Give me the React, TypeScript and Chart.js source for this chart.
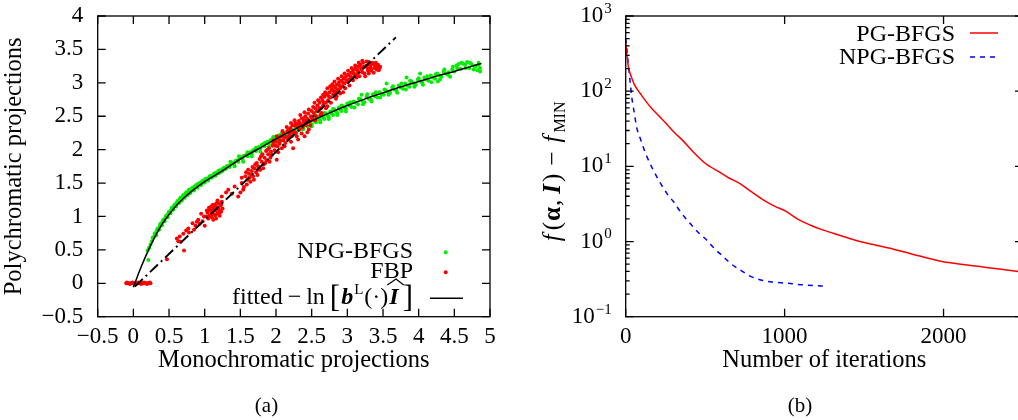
import { useEffect, useRef } from "react";
import { Chart, registerables } from "chart.js";

Chart.register(...registerables);

const SERIF = '"Liberation Serif", "Times New Roman", serif';

// ---------------- Panel (a) ----------------
const aXTicks = [-0.5, 0, 0.5, 1, 1.5, 2, 2.5, 3, 3.5, 4, 4.5, 5];
const aYTicks = [-0.5, 0, 0.5, 1, 1.5, 2, 2.5, 3, 3.5, 4];
const aXTitle = "Monochromatic projections";
const aYTitle = "Polychromatic projections";
const aLegend = ["NPG-BFGS", "FBP"];

const npgScatter: number[][] = [
  [0.21, 0.35], [0.2, 0.49], [0.22, 0.53], [0.24, 0.58],
  [0.26, 0.63], [0.27, 0.68], [0.29, 0.7], [0.3, 0.75], [0.31, 0.73], [0.33, 0.79], [0.34, 0.82], [0.35, 0.8],
  [0.37, 0.86], [0.38, 0.89], [0.39, 0.87], [0.41, 0.93], [0.42, 0.95], [0.43, 0.93], [0.45, 0.99], [0.46, 1.01],
  [0.47, 0.99], [0.49, 1.05], [0.5, 1.07], [0.51, 1.05], [0.53, 1.1], [0.54, 1.13], [0.55, 1.11], [0.57, 1.16],
  [0.58, 1.18], [0.59, 1.16], [0.61, 1.21], [0.62, 1.23], [0.63, 1.21], [0.65, 1.26], [0.66, 1.28], [0.67, 1.25],
  [0.69, 1.3], [0.7, 1.32], [0.71, 1.29], [0.73, 1.34], [0.74, 1.36], [0.75, 1.33], [0.77, 1.38], [0.78, 1.4],
  [0.79, 1.37], [0.81, 1.41], [0.83, 1.43], [0.84, 1.41], [0.86, 1.45], [0.88, 1.47], [0.89, 1.45], [0.91, 1.49],
  [0.93, 1.5], [0.94, 1.48], [0.96, 1.52], [0.98, 1.54], [0.99, 1.52], [1.01, 1.56], [1.03, 1.57], [1.05, 1.56],
  [1.07, 1.6], [1.09, 1.61], [1.11, 1.6], [1.13, 1.64], [1.15, 1.65], [1.17, 1.64], [1.19, 1.68], [1.21, 1.69],
  [1.23, 1.67], [1.25, 1.71], [1.27, 1.73], [1.29, 1.71],
  [1.31, 1.75], [1.33, 1.76], [1.35, 1.74], [1.37, 1.79], [1.39, 1.8], [1.41, 1.78], [1.43, 1.83], [1.45, 1.84],
  [1.47, 1.82], [1.49, 1.87], [1.51, 1.89], [1.53, 1.86], [1.55, 1.91], [1.58, 1.92], [1.6, 1.9], [1.62, 1.95],
  [1.64, 1.96], [1.66, 1.94], [1.68, 1.99], [1.7, 2.0], [1.72, 1.98], [1.74, 2.03], [1.76, 2.04], [1.78, 2.02],
  [1.8, 2.07], [1.82, 2.08], [1.84, 2.05], [1.86, 2.1], [1.88, 2.12], [1.9, 2.09], [1.92, 2.14], [1.94, 2.15],
  [1.96, 2.13], [1.98, 2.18], [2.0, 2.19], [2.02, 2.16], [2.04, 2.21], [2.06, 2.22], [2.08, 2.19], [2.1, 2.24],
  [2.12, 2.25], [2.14, 2.22], [2.16, 2.27], [2.18, 2.28], [2.2, 2.25], [2.22, 2.3], [2.24, 2.29], [2.26, 2.27],
  [2.28, 2.33], [2.3, 2.31], [2.32, 2.29], [2.34, 2.36], [2.36, 2.34], [2.38, 2.32], [2.4, 2.39], [2.42, 2.37],
  [2.44, 2.35], [2.46, 2.42], [2.48, 2.4], [2.5, 2.38], [2.52, 2.45], [2.54, 2.43], [2.55, 2.52], [2.56, 2.41],
  [2.58, 2.48], [2.6, 2.46], [2.62, 2.44], [2.64, 2.51], [2.66, 2.48], [2.68, 2.46], [2.7, 2.54], [2.72, 2.51],
  [2.74, 2.49], [2.76, 2.57], [2.78, 2.54], [2.8, 2.52], [2.82, 2.6], [2.84, 2.57], [2.86, 2.55], [2.88, 2.63],
  [2.9, 2.6], [2.92, 2.58], [2.94, 2.65], [2.96, 2.63], [2.98, 2.61], [3.0, 2.69], [3.03, 2.66], [3.06, 2.64],
  [3.09, 2.72], [3.12, 2.7], [3.15, 2.68], [3.18, 2.76], [3.2, 2.82], [3.21, 2.73], [3.24, 2.71], [3.27, 2.79],
  [3.3, 2.76], [3.33, 2.75], [3.36, 2.83], [3.39, 2.8], [3.42, 2.78], [3.45, 2.86], [3.48, 2.83], [3.51, 2.82],
  [3.54, 2.89], [3.55, 2.99], [3.57, 2.86], [3.6, 2.85], [3.63, 2.93], [3.66, 2.9], [3.69, 2.88], [3.72, 2.96],
  [3.75, 2.93], [3.78, 2.91], [3.81, 2.99], [3.83, 3.08], [3.84, 2.96], [3.87, 2.94], [3.9, 3.02], [3.93, 2.99],
  [3.96, 2.97], [3.99, 3.05], [4.02, 3.14], [4.03, 3.02], [4.05, 3.0], [4.08, 3.08], [4.11, 3.05], [4.14, 3.03],
  [4.17, 3.11], [4.2, 3.08], [4.23, 3.06], [4.26, 3.14], [4.27, 3.02], [4.29, 3.11], [4.32, 3.09], [4.35, 3.17],
  [4.38, 3.14], [4.41, 3.12], [4.44, 3.09], [4.47, 3.2], [4.5, 3.17], [4.53, 3.26], [4.56, 3.28], [4.59, 3.21],
  [4.62, 3.29], [4.65, 3.27], [4.68, 3.31], [4.71, 3.22], [4.74, 3.28], [4.77, 3.2], [4.8, 3.25], [4.82, 3.19],
  [4.84, 3.27], [4.86, 3.22],
];

const npgScatterExtra: number[][] = [
  [0.32, 0.72], [0.36, 0.8], [0.4, 0.87], [0.44, 0.93], [0.48, 0.99], [0.52, 1.05], [0.56, 1.1], [0.6, 1.15],
  [0.64, 1.2], [0.68, 1.24], [0.72, 1.28], [0.76, 1.32], [0.8, 1.35], [0.85, 1.39], [0.9, 1.43], [0.95, 1.47],
  [1.0, 1.51], [1.05, 1.54], [1.1, 1.58], [1.15, 1.61], [1.2, 1.65], [1.25, 1.68], [1.3, 1.72],
  [1.36, 1.82], [1.42, 1.75], [1.48, 1.9], [1.54, 1.82], [1.6, 1.96], [1.66, 1.9], [1.72, 2.03], [1.78, 1.97],
  [1.84, 2.1], [1.9, 2.04], [1.96, 2.19], [2.02, 2.11], [2.08, 2.24], [2.14, 2.19], [2.2, 2.32], [2.26, 2.23],
  [2.32, 2.36], [2.38, 2.3], [2.44, 2.42], [2.5, 2.35], [2.56, 2.5], [2.62, 2.41], [2.68, 2.55], [2.74, 2.46],
  [2.8, 2.61], [2.86, 2.52], [2.92, 2.66], [2.98, 2.57], [3.04, 2.71], [3.1, 2.63], [3.16, 2.76], [3.22, 2.68],
  [3.28, 2.83], [3.34, 2.72], [3.4, 2.86], [3.46, 2.78], [3.52, 2.9], [3.58, 2.82], [3.64, 2.95], [3.7, 2.85],
  [3.76, 2.99], [3.82, 2.9], [3.88, 3.03], [3.94, 2.94], [4.0, 3.07], [4.06, 2.97], [4.12, 3.1], [4.18, 3.01],
  [4.24, 3.13], [4.3, 3.05], [4.36, 3.2], [4.42, 3.16], [4.48, 3.24], [4.54, 3.22], [4.6, 3.3], [4.66, 3.22],
  [4.72, 3.3], [4.78, 3.25], [4.84, 3.3], [4.86, 3.17],
];

const fbpScatter: number[][] = [
  [-0.1, 0], [-0.08, 0], [-0.06, 0], [-0.04, 0], [-0.02, 0], [0.0, 0], [0.02, 0], [0.04, 0], [0.06, 0],
  [0.08, 0], [0.1, 0], [0.12, 0], [0.14, 0], [0.16, 0], [0.18, 0], [0.2, 0], [0.22, 0], [0.24, 0],
  [-0.09, 0.01], [-0.05, -0.01], [-0.01, 0.01], [0.03, -0.01], [0.07, 0.01], [0.11, -0.01], [0.15, 0.01],
  [0.19, -0.01], [0.23, 0.01],
  [0.47, 0.36], [0.71, 0.49], [0.61, 0.67], [0.63, 0.63], [0.65, 0.7], [0.7, 0.74], [0.74, 0.79], [0.78, 0.76],
  [0.83, 0.9], [0.87, 0.86], [0.91, 0.95], [0.95, 1.04], [1.0, 0.86], [0.97, 0.93],
  [1.02, 1.0], [1.04, 1.06], [1.05, 0.97], [1.07, 1.1], [1.08, 1.02], [1.09, 1.15], [1.1, 0.99], [1.11, 1.07],
  [1.12, 1.12], [1.13, 1.03], [1.14, 1.18], [1.15, 1.09], [1.16, 0.97], [1.17, 1.14], [1.18, 1.05], [1.19, 1.2],
  [1.2, 1.1], [1.21, 1.01], [1.22, 1.16], [1.23, 1.07], [1.24, 1.22], [1.25, 1.12], [1.06, 1.13], [1.12, 0.95],
  [1.18, 1.24],
  [1.24, 1.3], [1.3, 1.36], [1.33, 1.4], [1.38, 1.34], [1.42, 1.45], [1.47, 1.3], [1.5, 1.36], [1.52, 1.5],
  [1.55, 1.44], [1.57, 1.6], [1.6, 1.55], [1.62, 1.64], [1.64, 1.52], [1.66, 1.68], [1.68, 1.6],
  [1.7, 1.72], [1.72, 1.66], [1.73, 1.8], [1.75, 1.75], [1.77, 1.86], [1.78, 1.7], [1.8, 1.82], [1.81, 1.93],
  [1.83, 1.78], [1.84, 1.88], [1.86, 1.98], [1.87, 1.84], [1.89, 1.93], [1.9, 2.02], [1.92, 1.88], [1.93, 1.97],
  [1.95, 2.06], [1.96, 2.1], [1.98, 1.99], [2.0, 2.12], [2.01, 1.85], [2.02, 2.05], [2.04, 2.16], [2.05, 2.09],
  [2.07, 2.2], [2.08, 2.02], [2.1, 2.14], [2.11, 2.24], [2.13, 2.1], [2.14, 2.19], [2.16, 2.28], [2.17, 2.15],
  [2.19, 2.24], [2.2, 2.32], [2.22, 2.2], [2.23, 2.36], [2.24, 2.02], [2.25, 2.28], [2.27, 2.4], [2.28, 2.25],
  [2.3, 2.34], [2.31, 2.15], [2.32, 2.43], [2.33, 2.3], [2.35, 2.38], [2.36, 2.47], [2.37, 2.33], [2.39, 2.42],
  [2.4, 2.2], [2.41, 2.5], [2.42, 2.37], [2.44, 2.46], [2.45, 2.54], [2.46, 2.3], [2.47, 2.42], [2.49, 2.5],
  [2.5, 2.58], [2.51, 2.45],
  [2.53, 2.55], [2.55, 2.62], [2.56, 2.5], [2.58, 2.66], [2.6, 2.58], [2.61, 2.7], [2.63, 2.62], [2.65, 2.74],
  [2.66, 2.66], [2.68, 2.79], [2.7, 2.7], [2.71, 2.83], [2.73, 2.74], [2.75, 2.86], [2.76, 2.78], [2.78, 2.9],
  [2.8, 2.82], [2.81, 2.94], [2.83, 2.86], [2.85, 2.97], [2.86, 2.89], [2.88, 3.0], [2.9, 2.92], [2.91, 3.03],
  [2.93, 2.95], [2.95, 3.06], [2.96, 2.99], [2.98, 3.09], [3.0, 3.02], [3.01, 3.12], [3.03, 3.05], [3.05, 3.15],
  [3.06, 3.08], [3.08, 3.18], [3.1, 3.1], [3.11, 3.21], [3.13, 3.13], [3.15, 3.24], [3.16, 3.16], [2.62, 2.52],
  [2.72, 2.65], [2.84, 2.76], [2.94, 2.86],
  [3.18, 3.27], [3.2, 3.2], [3.22, 3.3], [3.24, 3.14], [3.26, 3.25], [3.27, 3.32], [3.29, 3.18], [3.31, 3.28],
  [3.33, 3.22], [3.35, 3.3], [3.37, 3.15], [3.39, 3.25], [3.41, 3.2], [3.43, 3.27], [3.45, 3.22], [3.46, 3.24],
];

const fbpScatterExtra: number[][] = [
  [0.66, 0.62], [0.77, 0.82], [0.85, 0.8], [0.89, 0.92], [0.93, 0.89], [0.99, 1.0],
  [1.03, 1.09], [1.06, 1.01], [1.09, 1.08], [1.11, 1.17], [1.13, 1.1], [1.15, 1.02], [1.17, 1.2], [1.19, 1.12],
  [1.21, 1.06], [1.23, 1.18], [1.1, 1.04], [1.14, 1.14],
  [1.52, 1.58], [1.54, 1.4], [1.58, 1.66], [1.59, 1.48], [1.61, 1.7], [1.63, 1.58], [1.65, 1.62], [1.67, 1.74],
  [1.69, 1.55], [1.71, 1.78], [1.74, 1.62], [1.76, 1.7], [1.79, 1.9], [1.82, 1.72], [1.85, 1.8], [1.88, 2.0],
  [1.91, 1.82], [1.94, 1.92], [1.97, 2.14],
  [1.99, 2.06], [2.01, 2.2], [2.03, 1.96], [2.06, 2.13], [2.09, 2.28], [2.12, 2.05], [2.15, 2.34], [2.18, 2.2],
  [2.21, 2.4], [2.21, 2.12], [2.24, 2.26], [2.26, 2.44], [2.29, 2.2], [2.31, 2.38], [2.34, 2.52], [2.36, 2.24],
  [2.38, 2.46], [2.4, 2.56], [2.43, 2.4], [2.44, 2.26], [2.46, 2.6], [2.48, 2.36], [2.5, 2.48], [2.52, 2.64],
  [2.26, 2.36], [2.33, 2.4], [2.38, 2.36], [2.42, 2.44], [2.18, 2.3], [2.12, 2.18],
  [2.54, 2.7], [2.55, 2.44], [2.57, 2.58], [2.59, 2.74], [2.61, 2.62], [2.63, 2.78], [2.64, 2.55], [2.66, 2.82],
  [2.67, 2.7], [2.69, 2.86], [2.7, 2.62], [2.72, 2.92], [2.74, 2.8], [2.76, 2.95], [2.77, 2.7], [2.79, 2.98],
  [2.8, 2.88], [2.82, 3.02], [2.84, 2.92], [2.85, 2.8], [2.87, 3.06], [2.89, 2.96], [2.9, 2.84], [2.92, 3.1],
  [2.94, 3.0], [2.96, 3.14], [2.97, 2.92], [2.99, 3.04], [3.01, 3.18], [3.03, 2.96], [3.04, 3.1], [3.06, 3.22],
  [3.08, 3.04], [3.09, 3.14], [3.11, 3.26], [3.13, 3.08], [3.14, 3.19], [3.16, 3.3], [3.17, 3.1], [3.19, 3.22],
  [3.21, 3.33], [3.23, 3.24], [3.25, 3.1], [3.28, 3.22], [3.3, 3.31], [3.32, 3.26], [3.34, 3.18], [3.36, 3.28],
  [3.38, 3.22], [3.4, 3.3], [3.42, 3.24], [3.44, 3.19], [3.21, 3.16], [3.3, 3.14],
];

const fittedCurve: number[][] = [
  [0.0, -0.06], [0.1, 0.22], [0.2, 0.47], [0.3, 0.69], [0.4, 0.88], [0.5, 1.03], [0.6, 1.16], [0.7, 1.27],
  [0.82, 1.38], [1.0, 1.52], [1.15, 1.62], [1.3, 1.72], [1.5, 1.86], [1.75, 2.01], [2.0, 2.16], [2.25, 2.3],
  [2.5, 2.43], [2.75, 2.55], [3.0, 2.66], [3.25, 2.76], [3.5, 2.85], [3.75, 2.94], [4.0, 3.02], [4.25, 3.1],
  [4.5, 3.17], [4.75, 3.25], [4.88, 3.29],
];

const identityLine: number[][] = [[0.02, -0.05], [3.68, 3.68]];

// ---------------- Panel (b) ----------------
const bXTicks = [0, 1000, 2000];
const bYDecades = [-1, 0, 1, 2, 3];
const bXTitle = "Number of iterations";
const bLegend = ["PG-BFGS", "NPG-BFGS"];

const pgIterations = [0, 8, 16, 25, 38, 55, 75, 100, 130, 160, 200, 250, 300, 360, 425, 500, 593, 650, 719, 790,
  855, 930, 1012, 1080, 1159, 1230, 1306, 1390, 1474, 1570, 1663, 1760, 1851, 1998, 2110, 2228, 2350, 2470, 2500];
const pgValues = [440, 300, 215, 180, 150, 122, 104, 88, 72, 60, 49, 38, 29, 22, 15.5, 11, 8.3, 7, 5.9, 4.6,
  3.7, 3.0, 2.5, 2.0, 1.66, 1.45, 1.29, 1.13, 1.0, 0.9, 0.815, 0.72, 0.64, 0.54, 0.5, 0.464, 0.43, 0.398, 0.39];

const npgIterations = [0, 10, 20, 30, 38, 55, 69, 90, 130, 195, 258, 300, 350, 404, 460, 509, 560, 614, 660, 719,
  780, 845, 920, 1012, 1100, 1222, 1253];
const npgValues = [510, 312, 191, 121, 84, 50, 33, 24, 14, 7.3, 4.4, 3.4, 2.4, 1.75, 1.3, 1.05, 0.8, 0.63, 0.51,
  0.42, 0.35, 0.31, 0.29, 0.279, 0.267, 0.257, 0.255];

// ---------------- helpers ----------------
const GREEN = "#00ee00";
const RED = "#ff0000";
const BLUE = "#0000ff";
const DOT_R = 2;

const fmt = (v: number) => (v < 0 ? "\u2212" + String(Math.abs(v)) : String(v));

type Piece = { t: string; f: string; dy?: number; gap?: number; hat?: boolean };

function piecesWidth(ctx: CanvasRenderingContext2D, ps: Piece[]) {
  let w = 0;
  for (const p of ps) {
    ctx.font = p.f;
    w += ctx.measureText(p.t).width + (p.gap || 0);
  }
  return w;
}

function drawPieces(ctx: CanvasRenderingContext2D, ps: Piece[], x: number, y: number) {
  ctx.textAlign = "left";
  ctx.textBaseline = "alphabetic";
  for (const p of ps) {
    ctx.font = p.f;
    const w = ctx.measureText(p.t).width;
    ctx.fillText(p.t, x, y + (p.dy || 0));
    if (p.hat) {
      ctx.beginPath();
      ctx.lineWidth = 1.2;
      ctx.moveTo(x - 2, y - 19);
      ctx.lineTo(x + w / 2 + 2, y - 25);
      ctx.lineTo(x + w + 5, y - 19);
      ctx.stroke();
    }
    x += w + (p.gap || 0);
  }
}

const pts = (arr: number[][]) => arr.map(([x, y]) => ({ x, y }));
const ptsXY = (xs: number[], ys: number[]) => xs.map((x, i) => ({ x, y: ys[i] }));

const panelAPlugin = {
  id: "panelA",
  afterDatasetsDraw(chart: any) {
    const ctx: CanvasRenderingContext2D = chart.ctx;
    const a = chart.chartArea;
    const xs = chart.scales.x;
    const ys = chart.scales.y;
    ctx.save();
    ctx.strokeStyle = "#000";
    ctx.fillStyle = "#000";
    ctx.lineWidth = 1.3;
    ctx.beginPath();
    for (const v of aXTicks) {
      const p = xs.getPixelForValue(v);
      ctx.moveTo(p, a.bottom);
      ctx.lineTo(p, a.bottom - 8);
      ctx.moveTo(p, a.top);
      ctx.lineTo(p, a.top + 8);
    }
    for (const v of aYTicks) {
      const p = ys.getPixelForValue(v);
      ctx.moveTo(a.left, p);
      ctx.lineTo(a.left + 8, p);
      ctx.moveTo(a.right, p);
      ctx.lineTo(a.right - 8, p);
    }
    ctx.stroke();
    ctx.strokeRect(a.left, a.top, a.right - a.left, a.bottom - a.top);

    // tick labels
    ctx.font = `23px ${SERIF}`;
    ctx.textAlign = "center";
    ctx.textBaseline = "alphabetic";
    for (const v of aXTicks) ctx.fillText(fmt(v), xs.getPixelForValue(v), a.bottom + 26.5);
    ctx.textAlign = "right";
    ctx.textBaseline = "middle";
    for (const v of aYTicks) ctx.fillText(fmt(v), a.left - 14.5, ys.getPixelForValue(v));

    // axis titles
    ctx.font = `24.5px ${SERIF}`;
    ctx.textAlign = "center";
    ctx.textBaseline = "alphabetic";
    ctx.fillText(aXTitle, (a.left + a.right) / 2, a.bottom + 50);
    ctx.save();
    ctx.translate(21, (a.top + a.bottom) / 2);
    ctx.rotate(-Math.PI / 2);
    ctx.fillText(aYTitle, 0, 0);
    ctx.restore();

    // legend
    ctx.font = `24px ${SERIF}`;
    ctx.textAlign = "right";
    ctx.fillText(aLegend[0], 413, 258.3);
    ctx.fillText(aLegend[1], 413, 278.3);
    const R = `24px ${SERIF}`;
    const BI = `italic bold 24px ${SERIF}`;
    const BR = `31px ${SERIF}`;
    const ps: Piece[] = [
      { t: "fitted", f: R, gap: 5 },
      { t: "\u2212", f: R, gap: 5 },
      { t: "ln", f: R, gap: 5 },
      { t: "[", f: BR, dy: 3, gap: 1 },
      { t: "b", f: BI, gap: 1 },
      { t: "L", f: `15px ${SERIF}`, dy: -10, gap: 1 },
      { t: "(\u00b7)", f: R, gap: 1 },
      { t: "I", f: BI, hat: true, gap: 4 },
      { t: "]", f: BR, dy: 3 },
    ];
    const w = piecesWidth(ctx, ps);
    drawPieces(ctx, ps, 413 - w, 304);

    ctx.fillStyle = GREEN;
    ctx.beginPath();
    ctx.arc(445.7, 252.3, DOT_R, 0, Math.PI * 2);
    ctx.fill();
    ctx.fillStyle = RED;
    ctx.beginPath();
    ctx.arc(445.7, 272.3, DOT_R, 0, Math.PI * 2);
    ctx.fill();
    ctx.strokeStyle = "#000";
    ctx.lineWidth = 1.5;
    ctx.beginPath();
    ctx.moveTo(430, 298.3);
    ctx.lineTo(463, 298.3);
    ctx.stroke();

    // caption
    ctx.fillStyle = "#000";
    ctx.font = `21px ${SERIF}`;
    ctx.textAlign = "center";
    ctx.fillText("(a)", 266.5, 412);
    ctx.restore();
  },
};

const panelBPlugin = {
  id: "panelB",
  afterDatasetsDraw(chart: any) {
    const ctx: CanvasRenderingContext2D = chart.ctx;
    const a = chart.chartArea;
    const xs = chart.scales.x;
    const ys = chart.scales.y;
    ctx.save();
    ctx.strokeStyle = "#000";
    ctx.fillStyle = "#000";
    ctx.lineWidth = 1.3;
    ctx.beginPath();
    for (const v of bXTicks) {
      const p = xs.getPixelForValue(v);
      ctx.moveTo(p, a.bottom);
      ctx.lineTo(p, a.bottom - 8);
      ctx.moveTo(p, a.top);
      ctx.lineTo(p, a.top + 8);
    }
    for (const d of bYDecades) {
      const p = ys.getPixelForValue(Math.pow(10, d));
      ctx.moveTo(a.left, p);
      ctx.lineTo(a.left + 8, p);
      ctx.moveTo(a.right, p);
      ctx.lineTo(a.right - 8, p);
      if (d < 3) {
        for (let m = 2; m <= 9; m++) {
          const q = ys.getPixelForValue(m * Math.pow(10, d));
          ctx.moveTo(a.left, q);
          ctx.lineTo(a.left + 4, q);
          ctx.moveTo(a.right, q);
          ctx.lineTo(a.right - 4, q);
        }
      }
    }
    ctx.stroke();
    ctx.strokeRect(a.left, a.top, a.right - a.left, a.bottom - a.top);

    // tick labels
    ctx.font = `23px ${SERIF}`;
    ctx.textAlign = "center";
    ctx.textBaseline = "alphabetic";
    for (const v of bXTicks) ctx.fillText(String(v), xs.getPixelForValue(v), a.bottom + 26.5);
    ctx.textBaseline = "middle";
    ctx.textAlign = "left";
    for (const d of bYDecades) {
      const p = ys.getPixelForValue(Math.pow(10, d));
      const ex = d < 0 ? "\u2212" + String(-d) : String(d);
      ctx.font = `15px ${SERIF}`;
      const we = ctx.measureText(ex).width;
      ctx.font = `23px ${SERIF}`;
      const wb = ctx.measureText("10").width;
      const right = a.left - 14;
      ctx.fillText("10", right - we - wb - 1, p);
      ctx.font = `15px ${SERIF}`;
      ctx.fillText(ex, right - we, p - 7);
    }

    // x title
    ctx.font = `24.5px ${SERIF}`;
    ctx.textAlign = "center";
    ctx.textBaseline = "alphabetic";
    ctx.fillText(bXTitle, (a.left + a.right) / 2, a.bottom + 50);

    // y title (rotated)
    const R = `25px ${SERIF}`;
    const IT = `italic 25px ${SERIF}`;
    const ps: Piece[] = [
      { t: "f", f: IT, gap: 4 },
      { t: "(", f: R, gap: 1 },
      { t: "\u03b1", f: `bold 25px ${SERIF}`, gap: 1 },
      { t: ",", f: R, gap: 6 },
      { t: "I", f: `italic bold 25px ${SERIF}`, gap: 2 },
      { t: ")", f: R, gap: 8 },
      { t: "\u2212", f: R, gap: 9 },
      { t: "f", f: IT, gap: 3 },
      { t: "MIN", f: `16px ${SERIF}`, dy: 5 },
    ];
    ctx.save();
    ctx.translate(a.left - 66, (a.top + a.bottom) / 2 + 5);
    ctx.rotate(-Math.PI / 2);
    const w = piecesWidth(ctx, ps);
    drawPieces(ctx, ps, -w / 2, 0);
    ctx.restore();

    // legend
    ctx.font = `24px ${SERIF}`;
    ctx.textAlign = "right";
    ctx.textBaseline = "alphabetic";
    ctx.fillText(bLegend[0], 440, 40.7);
    ctx.fillText(bLegend[1], 440, 64);
    ctx.lineWidth = 1.5;
    ctx.strokeStyle = RED;
    ctx.beginPath();
    ctx.moveTo(455, 33);
    ctx.lineTo(483, 33);
    ctx.stroke();
    ctx.strokeStyle = BLUE;
    ctx.setLineDash([5, 5]);
    ctx.beginPath();
    ctx.moveTo(455, 57);
    ctx.lineTo(483, 57);
    ctx.stroke();
    ctx.setLineDash([]);

    // caption
    ctx.fillStyle = "#000";
    ctx.font = `21px ${SERIF}`;
    ctx.textAlign = "center";
    ctx.fillText("(b)", 285, 412);
    ctx.restore();
  },
};

export default function App() {
  const refA = useRef<HTMLCanvasElement>(null);
  const refB = useRef<HTMLCanvasElement>(null);

  useEffect(() => {
    const chartA = new Chart(refA.current as HTMLCanvasElement, {
      type: "scatter",
      data: {
        datasets: [
          {
            label: "fitted",
            data: pts(fittedCurve),
            showLine: true,
            borderColor: "#000",
            borderWidth: 1.5,
            pointRadius: 0,
            cubicInterpolationMode: "monotone",
            order: 0,
          } as any,
          {
            label: "identity",
            data: pts(identityLine),
            showLine: true,
            borderColor: "#000",
            borderWidth: 2,
            borderDash: [11, 4, 2, 4],
            pointRadius: 0,
            order: 1,
          } as any,
          {
            label: aLegend[1],
            data: pts(fbpScatter.concat(fbpScatterExtra)),
            pointRadius: DOT_R,
            pointBorderWidth: 0,
            pointBackgroundColor: RED,
            backgroundColor: RED,
            order: 2,
          } as any,
          {
            label: aLegend[0],
            data: pts(npgScatter.concat(npgScatterExtra)),
            pointRadius: DOT_R,
            pointBorderWidth: 0,
            pointBackgroundColor: GREEN,
            backgroundColor: GREEN,
            order: 3,
          } as any,
        ],
      },
      options: {
        animation: false,
        responsive: false,
        events: [],
        layout: { padding: { left: 97.7, right: 25, top: 16, bottom: 103.3 } },
        scales: {
          x: { type: "linear", min: -0.5, max: 5, display: false },
          y: { type: "linear", min: -0.5, max: 4, display: false },
        },
        plugins: { legend: { display: false }, tooltip: { enabled: false } },
      },
      plugins: [panelAPlugin],
    } as any);

    const chartB = new Chart(refB.current as HTMLCanvasElement, {
      type: "scatter",
      data: {
        datasets: [
          {
            label: bLegend[0],
            data: ptsXY(pgIterations, pgValues),
            showLine: true,
            borderColor: RED,
            borderWidth: 1.5,
            pointRadius: 0,
            cubicInterpolationMode: "monotone",
          } as any,
          {
            label: bLegend[1],
            data: ptsXY(npgIterations, npgValues),
            showLine: true,
            borderColor: BLUE,
            borderWidth: 1.5,
            borderDash: [5, 5],
            pointRadius: 0,
            cubicInterpolationMode: "monotone",
          } as any,
        ],
      },
      options: {
        animation: false,
        responsive: false,
        events: [],
        layout: { padding: { left: 110.7, right: 12, top: 16, bottom: 103.3 } },
        scales: {
          x: { type: "linear", min: 0, max: 2500, display: false },
          y: { type: "logarithmic", min: 0.1, max: 1000, display: false },
        },
        plugins: { legend: { display: false }, tooltip: { enabled: false } },
      },
      plugins: [panelBPlugin],
    } as any);

    return () => {
      chartA.destroy();
      chartB.destroy();
    };
  }, []);

  return (
    <div
      style={{
        position: "fixed",
        left: 0,
        top: 0,
        width: 1018,
        height: 420,
        overflow: "hidden",
        background: "#fff",
      }}
    >
      <canvas
        ref={refA}
        width={515}
        height={420}
        style={{ position: "absolute", left: 0, top: 0, width: 515, height: 420 }}
      />
      <canvas
        ref={refB}
        width={520}
        height={420}
        style={{ position: "absolute", left: 515, top: 0, width: 520, height: 420 }}
      />
    </div>
  );
}
